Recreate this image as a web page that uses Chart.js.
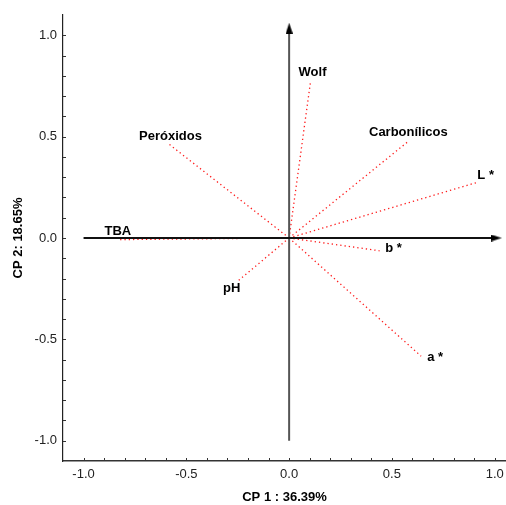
<!DOCTYPE html>
<html>
<head>
<meta charset="utf-8">
<script src="https://cdn.jsdelivr.net/npm/chart.js@4"></script>
<style>
  html, body { margin: 0; padding: 0; background: #fff; overflow: hidden; }
  #wrap { width: 506px; height: 505px; position: relative; }
</style>
</head>
<body>
<div id="wrap"><canvas id="pcaChart"></canvas></div>
<script>
// loadings of each variable on the first two components
const variables = ['Wolf', 'Carbonílicos', 'L *', 'b *', 'a *', 'pH', 'TBA', 'Peróxidos'];
const cp1 = [0.104, 0.58, 0.917, 0.44, 0.642, -0.25, -0.833, -0.582];
const cp2 = [0.77, 0.477, 0.275, -0.063, -0.583, -0.213, -0.008, 0.461];

// axis ticks
const tickValues = [-1.0, -0.9, -0.8, -0.7, -0.6, -0.5, -0.4, -0.3, -0.2, -0.1, 0.0,
                    0.1, 0.2, 0.3, 0.4, 0.5, 0.6, 0.7, 0.8, 0.9, 1.0];
const tickLabels = ['-1.0', '-0.5', '0.0', '0.5', '1.0'];

// cross through the origin (start/end along each axis)
const crossX = [-1.0, 1.008];
const crossY = [-1.0, 1.035];

// where each label sits relative to the tip of its vector (px)
const labelShift = [[2, -9], [0, -9], [8, -7], [14, -2], [14, 1], [-6, 7], [0, -8], [1, -8]];

document.addEventListener('DOMContentLoaded', function() {
    drawChart();
});

function makeArrowHead() {
    const c = document.createElement('canvas');
    c.width = 7;
    c.height = 11;
    const g = c.getContext('2d');
    g.fillStyle = '#000';
    g.beginPath();
    g.moveTo(3.5, 0);
    g.lineTo(7, 11);
    g.lineTo(0, 11);
    g.closePath();
    g.fill();
    return c;
}

function drawChart() {
    const arrow = makeArrowHead();
    const datasets = [];

    // horizontal and vertical axes through the origin
    datasets.push({
        data: [{x: crossX[0], y: 0}, {x: crossX[1], y: 0}],
        borderColor: '#111',
        borderWidth: 2,
        pointStyle: [false, arrow],
        pointRadius: [0, 6],
        pointRotation: 90
    });
    datasets.push({
        data: [{x: 0, y: crossY[0]}, {x: 0, y: crossY[1]}],
        borderColor: '#555',
        borderWidth: 2,
        pointStyle: [false, arrow],
        pointRadius: [0, 6],
        pointRotation: 0
    });

    // dotted vectors from origin to each loading
    variables.forEach(function(name, i) {
        datasets.push({
            label: name,
            data: [{x: 0, y: 0}, {x: cp1[i], y: cp2[i]}],
            borderColor: 'rgba(255, 0, 0, 0.9)',
            borderWidth: 1.3,
            borderDash: [1.3, 3],
            pointRadius: 0
        });
    });

    const labelPlugin = {
        id: 'vectorLabels',
        afterDatasetsDraw(chart) {
            const ctx = chart.ctx;
            const xs = chart.scales.x;
            const ys = chart.scales.y;
            const area = chart.chartArea;

            // inner tick marks
            ctx.save();
            ctx.strokeStyle = '#333';
            ctx.lineWidth = 1;
            tickValues.forEach(function(v) {
                const px = Math.round(xs.getPixelForValue(v)) + 0.5;
                ctx.beginPath();
                ctx.moveTo(px, area.bottom);
                ctx.lineTo(px, area.bottom - 3);
                ctx.stroke();
                const py = Math.round(ys.getPixelForValue(v)) + 0.5;
                ctx.beginPath();
                ctx.moveTo(area.left, py);
                ctx.lineTo(area.left + 3, py);
                ctx.stroke();
            });

            // variable names
            ctx.font = 'bold 13px "Liberation Sans", Arial, sans-serif';
            ctx.fillStyle = '#000';
            ctx.textAlign = 'center';
            ctx.textBaseline = 'middle';
            variables.forEach(function(name, i) {
                const px = xs.getPixelForValue(cp1[i]) + labelShift[i][0];
                const py = ys.getPixelForValue(cp2[i]) + labelShift[i][1];
                ctx.fillText(name, px, py);
            });
            ctx.restore();
        }
    };

    const tickFont = {family: '"Liberation Sans", Arial, sans-serif', size: 13};
    const titleFont = {family: '"Liberation Sans", Arial, sans-serif', size: 13, weight: 'bold'};
    const showLabel = function(value) {
        const s = Number(value).toFixed(1);
        return tickLabels.indexOf(s) >= 0 ? s : '';
    };

    new Chart(document.getElementById('pcaChart').getContext('2d'), {
        type: 'scatter',
        data: { datasets: datasets },
        options: {
            responsive: true,
            maintainAspectRatio: false,
            animation: false,
            showLine: true,
            layout: {
                autoPadding: false,
                padding: { top: 15, left: 0, right: 0, bottom: 0 }
            },
            plugins: {
                legend: { display: false },
                tooltip: { enabled: false }
            },
            scales: {
                x: {
                    type: 'linear',
                    min: -1.1,
                    max: 1.055,
                    afterBuildTicks: function(scale) {
                        scale.ticks = tickValues.map(function(v) { return {value: v}; });
                    },
                    afterFit: function(scale) {
                        scale.height = 44;
                        scale.paddingLeft = 0;
                        scale.paddingRight = 0;
                    },
                    grid: { display: false, drawTicks: false },
                    border: { display: true, color: '#333', width: 1.5 },
                    ticks: {
                        autoSkip: false,
                        maxRotation: 0,
                        padding: 6,
                        color: '#222',
                        font: tickFont,
                        callback: showLabel
                    },
                    title: {
                        display: true,
                        text: 'CP 1 : 36.39%',
                        color: '#000',
                        font: titleFont,
                        padding: { top: 0, bottom: 0 }
                    }
                },
                y: {
                    type: 'linear',
                    min: -1.1,
                    max: 1.1,
                    afterBuildTicks: function(scale) {
                        scale.ticks = tickValues.map(function(v) { return {value: v}; });
                    },
                    afterFit: function(scale) { scale.width = 63; },
                    grid: { display: false, drawTicks: false },
                    border: { display: true, color: '#222', width: 1.2 },
                    ticks: {
                        autoSkip: false,
                        padding: 6,
                        color: '#222',
                        font: tickFont,
                        callback: showLabel
                    },
                    title: {
                        display: true,
                        text: 'CP 2: 18.65%',
                        color: '#000',
                        font: titleFont,
                        padding: { top: 11, bottom: 0 }
                    }
                }
            }
        },
        plugins: [labelPlugin]
    });
}
</script>
</body>
</html>
